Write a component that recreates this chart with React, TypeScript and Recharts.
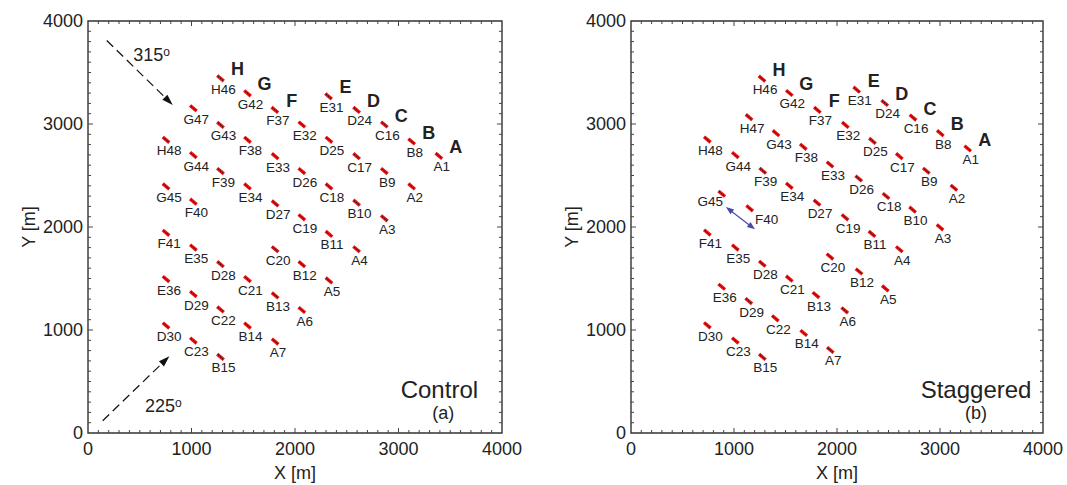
import React from 'react';
import { ScatterChart, Scatter, XAxis, YAxis, ReferenceArea, ReferenceLine } from 'recharts';

const FONT = '"Liberation Sans", Arial, Helvetica, sans-serif';

// ---- axis ticks ----
const axisTicks = [0, 1000, 2000, 3000, 4000];
const minorTicks = [100, 200, 300, 400, 500, 600, 700, 800, 900, 1000, 1100, 1200, 1300, 1400, 1500, 1600, 1700, 1800, 1900, 2000,
  2100, 2200, 2300, 2400, 2500, 2600, 2700, 2800, 2900, 3000, 3100, 3200, 3300, 3400, 3500, 3600, 3700, 3800, 3900];

// ---- turbine layouts ----
const controlLabels = ['A1', 'A2', 'A3', 'A4', 'A5', 'A6', 'A7', 'B8', 'B9', 'B10', 'B11', 'B12', 'B13', 'B14', 'B15',
  'C16', 'C17', 'C18', 'C19', 'C20', 'C21', 'C22', 'C23', 'D24', 'D25', 'D26', 'D27', 'D28', 'D29', 'D30',
  'E31', 'E32', 'E33', 'E34', 'E35', 'E36', 'F37', 'F38', 'F39', 'F40', 'F41', 'G42', 'G43', 'G44', 'G45', 'H46', 'G47', 'H48'];
const controlX = [3390, 3127, 2863, 2595, 2328, 2066, 1808, 3127, 2863, 2595, 2328, 2066, 1808, 1541, 1280,
  2863, 2595, 2328, 2066, 1808, 1541, 1280, 1018, 2595, 2328, 2066, 1808, 1280, 1018, 754,
  2324, 2066, 1808, 1541, 1018, 754, 1805, 1541, 1280, 1018, 754, 1541, 1280, 1018, 754, 1280, 1018, 754];
const controlY = [2690, 2394, 2084, 1784, 1481, 1194, 888, 2830, 2543, 2236, 1933, 1639, 1336, 1043, 739,
  2995, 2688, 2394, 2094, 1784, 1494, 1200, 897, 3137, 2846, 2543, 2229, 1639, 1349, 1043,
  3269, 2995, 2688, 2394, 1800, 1494, 3137, 2846, 2543, 2246, 1943, 3298, 2991, 2698, 2394, 3443, 3153, 2846];

const staggeredLabels = ['A1', 'A2', 'A3', 'A4', 'A5', 'A6', 'A7', 'B8', 'B9', 'B10', 'B11', 'B12', 'B13', 'B14', 'B15',
  'C16', 'C17', 'C18', 'C19', 'C20', 'C21', 'C22', 'C23', 'D24', 'D25', 'D26', 'D27', 'D28', 'D29', 'D30',
  'E31', 'E32', 'E33', 'E34', 'E35', 'E36', 'F37', 'F38', 'F39', 'F40', 'F41', 'G42', 'G43', 'G44', 'G45', 'H46', 'H47', 'H48'];
const staggeredX = [3269, 3135, 3000, 2605, 2469, 2075, 1935, 3003, 2867, 2734, 2340, 2214, 1796, 1677, 1275,
  2738, 2605, 2476, 2078, 1932, 1537, 1401, 1013, 2463, 2344, 2211, 1806, 1275, 1143, 741,
  2191, 2081, 1932, 1537, 1013, 881, 1809, 1673, 1279, 1152, 741, 1537, 1408, 1013, 881, 1272, 1146, 741];
const staggeredY = [2762, 2381, 1997, 1784, 1404, 1191, 806, 2911, 2546, 2168, 1933, 1568, 1339, 971, 739,
  3062, 2688, 2301, 2094, 1713, 1498, 1113, 897, 3204, 2836, 2471, 2236, 1643, 1281, 1045,
  3333, 2991, 2607, 2400, 1800, 1420, 3137, 2778, 2546, 2181, 1946, 3301, 2911, 2698, 2323, 3440, 3066, 2849];

// ---- wind-direction arrows & annotations ----
const controlArrows = [
  { x1: 181, y1: 3811, x2: 819, y2: 3185 },
  { x1: 142, y1: 119, x2: 786, y2: 745 },
];
const staggeredArrows = [{ x1: 922, y1: 2193, x2: 1204, y2: 1977 }];

const controlNotes = [
  { kind: 'angle', text: '315', x: 437, y: 3614 },
  { kind: 'angle', text: '225', x: 551, y: 206 },
  { kind: 'title', text: 'Control', x: 3395, y: 339 },
  { kind: 'sub', text: '(a)', x: 3433, y: 136 },
];
const staggeredNotes = [
  { kind: 'title', text: 'Staggered', x: 3350, y: 339 },
  { kind: 'sub', text: '(b)', x: 3350, y: 136 },
];

// label nudges (pixels) for labels moved aside in the figure
const staggeredNudges: Record<string, [number, number]> = { F40: [14, 0], G45: [-14.5, -3] };

function buildTurbines(labels: string[], xs: number[], ys: number[], nudges: Record<string, [number, number]>) {
  const seen = new Set<string>();
  return labels.map((label, i) => {
    const row = label[0];
    const head = !seen.has(row);
    seen.add(row);
    return { x: xs[i], y: ys[i], label, row, head, nudge: nudges[label] || [0, 0] };
  });
}

function buildTickMarks() {
  const out: any[] = [];
  minorTicks.forEach((v) => {
    const major = v % 1000 === 0;
    out.push({ x: v, y: 0, side: 'bottom', major });
    out.push({ x: v, y: 4000, side: 'top', major });
    out.push({ x: 0, y: v, side: 'left', major });
    out.push({ x: 4000, y: v, side: 'right', major });
  });
  return out;
}
const tickMarks = buildTickMarks();

const TurbineShape = (props: any) => {
  const { cx, cy, payload } = props;
  if (cx == null || cy == null) return <g />;
  const [nx, ny] = payload.nudge;
  return (
    <g>
      <line x1={cx - 3.3} y1={cy - 2.8} x2={cx + 3.3} y2={cy + 2.8} stroke="#ee1111" strokeWidth={3.4} />
      <line x1={cx - 2.6} y1={cy - 2.2} x2={cx + 2.6} y2={cy + 2.2} stroke="#111" strokeWidth={1} strokeDasharray="1.6 0.9" />
      <text x={cx + 3 + nx} y={cy + 15.5 + ny} textAnchor="middle" fontSize={13.5} fill="#222" fontFamily={FONT}>
        {payload.label}
      </text>
      {payload.head && (
        <text x={cx + 17} y={cy - 3} textAnchor="middle" fontSize={18} fontWeight="bold" fill="#222" fontFamily={FONT}>
          {payload.row}
        </text>
      )}
    </g>
  );
};

const TickShape = (props: any) => {
  const { cx, cy, payload } = props;
  if (cx == null || cy == null) return <g />;
  const len = payload.major ? 5 : 3;
  const dir: Record<string, [number, number]> = { bottom: [0, -1], top: [0, 1], left: [1, 0], right: [-1, 0] };
  const d = dir[payload.side];
  return <line x1={cx} y1={cy} x2={cx + d[0] * len} y2={cy + d[1] * len} stroke="#444" strokeWidth={1} />;
};

const NoteShape = (props: any) => {
  const { cx, cy, payload } = props;
  if (cx == null || cy == null) return <g />;
  if (payload.kind === 'angle') {
    return (
      <text x={cx} y={cy} fontSize={18} fill="#222" fontFamily={FONT}>
        {payload.text}
        <tspan fontSize={12} dy={-5}>o</tspan>
      </text>
    );
  }
  const size = payload.kind === 'title' ? 24 : 18;
  return (
    <text x={cx} y={cy} fontSize={size} textAnchor="middle" fill="#222" fontFamily={FONT}>
      {payload.text}
    </text>
  );
};

function arrowShape(color: string, dashed: boolean, both: boolean, headLen: number, headHalf: number) {
  return (p: any) => {
    const { x1, y1, x2, y2 } = p;
    if ([x1, y1, x2, y2].some((v) => v == null || isNaN(v))) return <g />;
    const dx = x2 - x1;
    const dy = y2 - y1;
    const L = Math.sqrt(dx * dx + dy * dy);
    const ux = dx / L;
    const uy = dy / L;
    const px = -uy;
    const py = ux;
    const head = (tx: number, ty: number, sx: number, sy: number) => {
      const bx = tx - sx * headLen;
      const by = ty - sy * headLen;
      return `${tx},${ty} ${bx + px * headHalf},${by + py * headHalf} ${bx - px * headHalf},${by - py * headHalf}`;
    };
    const sx1 = both ? x1 + ux * headLen * 0.8 : x1;
    const sy1 = both ? y1 + uy * headLen * 0.8 : y1;
    const ex = x2 - ux * headLen * 0.8;
    const ey = y2 - uy * headLen * 0.8;
    return (
      <g>
        <line x1={sx1} y1={sy1} x2={ex} y2={ey} stroke={color} strokeWidth={1.2} strokeDasharray={dashed ? '9 5' : undefined} />
        <polygon points={head(x2, y2, ux, uy)} fill={color} />
        {both && <polygon points={head(x1, y1, -ux, -uy)} fill={color} />}
      </g>
    );
  };
}

const YTitle = (props: any) => {
  const vb = props.viewBox || { x: 0, y: 21, width: 88, height: 412 };
  const x = vb.x + 29;
  const y = vb.y + vb.height / 2;
  return (
    <text x={x} y={y} transform={`rotate(-90 ${x} ${y})`} textAnchor="middle" dominantBaseline="central" fontSize={18} fill="#222" fontFamily={FONT}>
      Y [m]
    </text>
  );
};

type PanelProps = {
  left: number;
  width: number;
  marginRight: number;
  turbines: any[];
  arrows: { x1: number; y1: number; x2: number; y2: number }[];
  notes: any[];
  arrowColor: string;
  dashed: boolean;
  both: boolean;
};

function Panel(props: PanelProps) {
  const { left, width, marginRight, turbines, arrows, notes, arrowColor, dashed, both } = props;
  const tickStyle = { fontSize: 18, fill: '#222', fontFamily: FONT };
  const shape = dashed ? arrowShape(arrowColor, true, false, 11, 3.6) : arrowShape(arrowColor, false, true, 8, 3);
  return (
    <div style={{ position: 'absolute', left, top: 0, width, height: 485 }}>
      <ScatterChart width={width} height={485} margin={{ top: 21, right: marginRight, bottom: 0, left: 0 }}>
        <XAxis
          type="number"
          dataKey="x"
          domain={[0, 4000]}
          ticks={axisTicks}
          interval={0}
          allowDataOverflow
          tickLine={false}
          axisLine={false}
          tickSize={0}
          tickMargin={9}
          height={52}
          tick={tickStyle}
          label={{ value: 'X [m]', position: 'insideBottom', offset: 6, fontSize: 18, fill: '#222', fontFamily: FONT }}
        />
        <YAxis
          type="number"
          dataKey="y"
          domain={[0, 4000]}
          ticks={axisTicks}
          interval={0}
          allowDataOverflow
          tickLine={false}
          axisLine={false}
          tickSize={0}
          tickMargin={5}
          width={88}
          tick={tickStyle}
          label={{ content: (p: any) => <YTitle {...p} /> }}
        />
        <ReferenceArea x1={0} x2={4000} y1={0} y2={4000} fill="none" fillOpacity={0} stroke="#333" strokeWidth={1.4} ifOverflow="visible" />
        {arrows.map((a, i) => (
          <ReferenceLine
            key={i}
            segment={[{ x: a.x1, y: a.y1 }, { x: a.x2, y: a.y2 }]}
            stroke={arrowColor}
            ifOverflow="visible"
            shape={shape}
          />
        ))}
        <Scatter data={tickMarks} shape={TickShape} isAnimationActive={false} />
        <Scatter data={notes} shape={NoteShape} isAnimationActive={false} />
        <Scatter data={turbines} shape={TurbineShape} isAnimationActive={false} />
      </ScatterChart>
    </div>
  );
}

export default function App() {
  const control = buildTurbines(controlLabels, controlX, controlY, {});
  const staggered = buildTurbines(staggeredLabels, staggeredX, staggeredY, staggeredNudges);
  return (
    <div style={{ position: 'absolute', left: 0, top: 0, width: 1067, height: 485, background: '#fff', fontFamily: FONT }}>
      <Panel left={0} width={530} marginRight={28} turbines={control} arrows={controlArrows} notes={controlNotes}
        arrowColor="#111" dashed={true} both={false} />
      <Panel left={543} width={524} marginRight={24} turbines={staggered} arrows={staggeredArrows} notes={staggeredNotes}
        arrowColor="#4a4aa6" dashed={false} both={true} />
    </div>
  );
}
